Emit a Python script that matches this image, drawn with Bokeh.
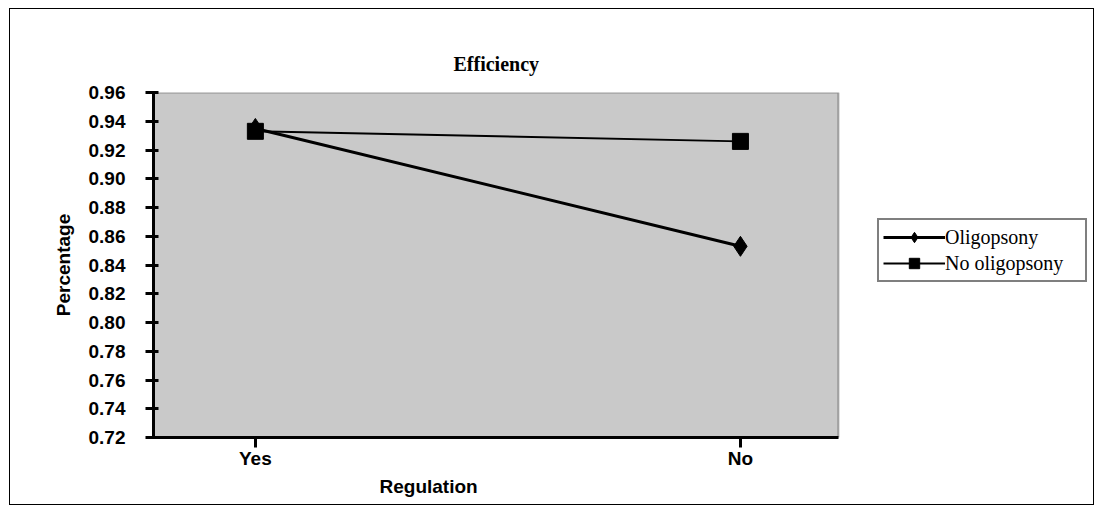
from bokeh.plotting import figure
from bokeh.models import (FixedTicker, Legend, LegendItem, ColumnDataSource,
                          NumeralTickFormatter, BoxAnnotation, Title)
from bokeh.embed import file_html
from bokeh.resources import INLINE

categories = ["Yes", "No"]
oligopsony = [0.935, 0.853]
no_oligopsony = [0.933, 0.926]
y_ticks = [0.72, 0.74, 0.76, 0.78, 0.80, 0.82, 0.84, 0.86, 0.88, 0.90, 0.92, 0.94, 0.96]

xpos = list(range(len(categories)))
src = ColumnDataSource(dict(x=xpos, o=oligopsony, n=no_oligopsony))

# plot-area limits along x (category positions 0..1), extra room on the right for the legend
X_LO, X_HI, X_CANVAS = -0.21, 1.202, 1.732

p = figure(width=1085, height=497, output_backend="svg", toolbar_location=None,
           x_range=(X_LO, X_CANVAS), y_range=(0.72, 0.96),
           min_border_left=143, min_border_right=0, min_border_top=83, min_border_bottom=69)
p.styles = {"border": "1px solid black", "margin-left": "9px", "margin-top": "8px"}
p.background_fill_color = "white"
p.border_fill_color = "white"
p.outline_line_color = None
p.xgrid.visible = False
p.ygrid.visible = False

area = BoxAnnotation(right=X_HI, fill_color="#c9c9c9", fill_alpha=1.0,
                     line_color="black", line_width=2, level="underlay")
p.add_layout(area)

p.title.text = "Efficiency"
p.title.align = "left"
p.title.offset = 300
p.title.text_font = "Liberation Serif"
p.title.text_font_size = "20px"
p.title.text_font_style = "bold"
p.title.text_color = "black"
p.title.standoff = 35

l1 = p.line("x", "o", source=src, line_color="black", line_width=3)
s1 = p.scatter("x", "o", source=src, marker="diamond", size=20, fill_color="black", line_color="black")
l2 = p.line("x", "n", source=src, line_color="black", line_width=2)
s2 = p.scatter("x", "n", source=src, marker="square", size=16, fill_color="black", line_color="black")

p.xaxis.ticker = FixedTicker(ticks=xpos)
p.xaxis.major_label_overrides = {i: c for i, c in enumerate(categories)}
p.xaxis.bounds = (X_LO, X_HI)
p.yaxis.ticker = FixedTicker(ticks=y_ticks)
p.yaxis.formatter = NumeralTickFormatter(format="0.00")

for ax in (p.xaxis[0], p.yaxis[0]):
    ax.axis_line_width = 3
    ax.axis_line_color = "black"
    ax.major_tick_line_width = 3
    ax.major_tick_line_color = "black"
    ax.minor_tick_line_color = None
    ax.major_label_text_font = "Liberation Sans"
    ax.major_label_text_font_size = "19px"
    ax.major_label_text_font_style = "bold"
    ax.major_label_text_color = "black"
    ax.axis_label_text_font = "Liberation Sans"
    ax.axis_label_text_font_style = "bold"
    ax.axis_label_text_font_size = "19px"
    ax.axis_label_text_color = "black"

p.yaxis.major_tick_in = 5
p.yaxis.major_tick_out = 8
p.yaxis.major_label_standoff = 20
p.yaxis.axis_label = "Percentage"
p.yaxis.axis_label_standoff = 12
p.xaxis.major_tick_in = 0
p.xaxis.major_tick_out = 10
p.xaxis.major_label_standoff = 0

xlabel = Title(text="Regulation", align="left", offset=226, standoff=4,
               text_font="Liberation Sans", text_font_size="19px",
               text_font_style="bold", text_color="black")
p.add_layout(xlabel, "below")

legend = Legend(items=[LegendItem(label="Oligopsony", renderers=[l1, s1]),
                       LegendItem(label="No oligopsony", renderers=[l2, s2])],
                location=(724, 155))
legend.label_text_font = "Liberation Serif"
legend.label_text_font_size = "20px"
legend.label_text_color = "black"
legend.border_line_color = "black"
legend.border_line_width = 2
legend.background_fill_color = "white"
legend.glyph_width = 62
legend.glyph_height = 26
legend.label_height = 26
legend.label_width = 136
legend.label_standoff = 0
legend.spacing = 0
legend.padding = 4
legend.margin = 0
p.add_layout(legend, "center")

open("out.html", "w").write(file_html(p, INLINE))
